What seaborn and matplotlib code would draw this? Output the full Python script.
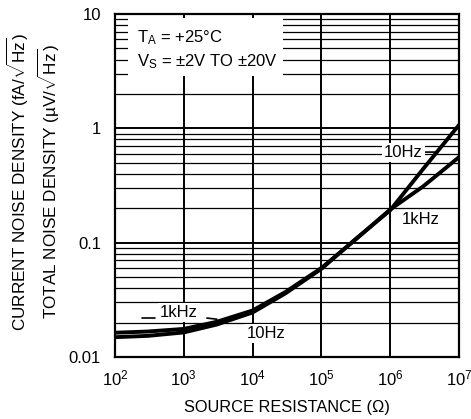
import numpy as np
import pandas as pd
import matplotlib
matplotlib.use("Agg")
import matplotlib.pyplot as plt
import matplotlib.ticker as mticker
from matplotlib.patches import Rectangle
import seaborn as sns

# values (log-log)
resistance = [1e2, 3e2, 1e3, 3e3, 1e4, 3e4, 1e5, 3e5, 1e6, 3e6, 1e7]
noise_10hz = [0.0149, 0.0153, 0.0164, 0.0192, 0.0245, 0.036, 0.059, 0.105, 0.192, 0.44, 1.07]
noise_1khz = [0.0163, 0.0167, 0.0176, 0.0203, 0.0255, 0.037, 0.060, 0.104, 0.195, 0.31, 0.56]
ytick_vals = [0.01, 0.1, 1, 10]
ytick_labels = ["0.01", "0.1", "1", "10"]

df = pd.DataFrame({
    "R": resistance * 2,
    "V": noise_10hz + noise_1khz,
    "freq": ["10Hz"] * len(resistance) + ["1kHz"] * len(resistance),
})

sns.set_style("white")
plt.rcParams["font.family"] = ["Liberation Sans", "DejaVu Sans"]
plt.rcParams["mathtext.fontset"] = "custom"
plt.rcParams["mathtext.rm"] = "Liberation Sans"
plt.rcParams["mathtext.it"] = "Liberation Sans:italic"
plt.rcParams["mathtext.bf"] = "Liberation Sans:bold"
for k in ["text.color", "axes.labelcolor", "xtick.color", "ytick.color"]:
    plt.rcParams[k] = "black"

fig = plt.figure(figsize=(4.71, 4.19), dpi=100)
ax = fig.add_axes([0.244, 0.148, 0.7305, 0.8185])

sns.lineplot(data=df, x="R", y="V", hue="freq", palette={"10Hz": "black", "1kHz": "black"},
             linewidth=2.8, legend=False, ax=ax, zorder=5)

ax.set_xscale("log")
ax.set_yscale("log")
ax.set_xlim(1e2, 1e7)
ax.set_ylim(0.01, 10)

ax.xaxis.set_major_locator(mticker.LogLocator(base=10, numticks=10))
ax.xaxis.set_minor_locator(mticker.NullLocator())
ax.yaxis.set_major_locator(mticker.FixedLocator(ytick_vals))
ax.yaxis.set_major_formatter(mticker.FixedFormatter(ytick_labels))
ax.yaxis.set_minor_locator(mticker.LogLocator(base=10, subs=np.arange(2, 10), numticks=10))
ax.yaxis.set_minor_formatter(mticker.NullFormatter())

ax.grid(True, which="major", color="black", linewidth=1.4)
ax.grid(True, which="minor", axis="y", color="black", linewidth=0.9)
ax.tick_params(which="both", length=0, labelsize=12, colors="black")
ax.tick_params(axis="x", pad=8)
ax.tick_params(axis="y", pad=10)
for s in ax.spines.values():
    s.set_color("black")
    s.set_linewidth(1.6)

ax.set_xlabel("SOURCE RESISTANCE (Ω)", fontsize=11.8, labelpad=9)
ax.set_ylabel("")
fig.text(0.104, 0.566, r"TOTAL NOISE DENSITY (µV/$\sqrt{\mathrm{Hz}}$)", rotation=90,
         fontsize=12.3, ha="center", va="center")
fig.text(0.038, 0.566, r"CURRENT NOISE DENSITY (fA/$\sqrt{\mathrm{Hz}}$)", rotation=90,
         fontsize=12.3, ha="center", va="center")

# white panel for the conditions box
ax.add_patch(Rectangle((0.038, 0.82), 0.45, 0.168, transform=ax.transAxes,
                       facecolor="white", edgecolor="none", zorder=3))
ax.text(0.064, 0.93, r"T$_\mathrm{A}$ = +25°C", transform=ax.transAxes, fontsize=12,
        va="center", zorder=4)
ax.text(0.064, 0.86, r"V$_\mathrm{S}$ = ±2V TO ±20V", transform=ax.transAxes, fontsize=12,
        va="center", zorder=4)

box = dict(facecolor="white", edgecolor="none", pad=1.5)
ax.annotate("10Hz", xy=(4.8e6, 0.62), xytext=(1.55e6, 0.62), fontsize=12, va="center",
            ha="center", bbox=box, zorder=4,
            arrowprops=dict(arrowstyle="-", color="black", lw=1.2, shrinkA=0, shrinkB=0))
ax.text(2.8e6, 0.16, "1kHz", fontsize=12, va="center", ha="center", bbox=box, zorder=4)
ax.text(8.5e2, 0.0243, "1kHz", fontsize=12, va="center", ha="center", bbox=box, zorder=4)
ax.plot([2.47e2, 3.8e2], [0.0219, 0.0219], color="black", lw=1.2, zorder=4)
ax.plot([2.17e3, 3.03e3], [0.0219, 0.0214], color="black", lw=1.2, zorder=4)
ax.text(1.57e4, 0.0162, "10Hz", fontsize=12, va="center", ha="center", bbox=box, zorder=4)

fig.savefig("out.png", dpi=100)
